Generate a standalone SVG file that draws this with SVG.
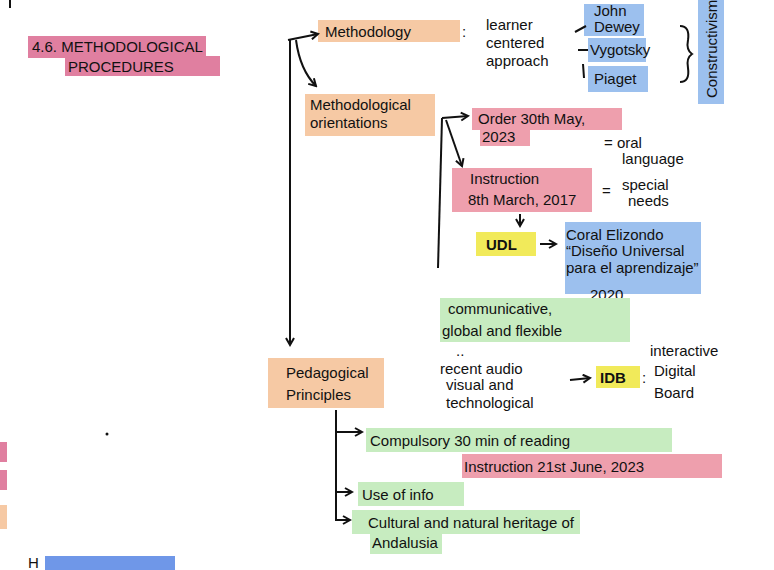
<svg xmlns="http://www.w3.org/2000/svg" width="774" height="570" viewBox="0 0 774 570">
<style>
text{font-family:"Liberation Sans",Arial,sans-serif;font-size:15px;fill:#111}
.o{fill:#f6c9a4}.r{fill:#ee9fad}.p{fill:#e07fa0}.b{fill:#9cc0ee}.g{fill:#c7ecc0}.y{fill:#f1ea5a}.bb{fill:#6f97e8}
.c{fill:none;stroke:#111;stroke-width:2}
</style>
<defs><marker id="a" markerWidth="10" markerHeight="10" refX="8" refY="5" orient="auto" markerUnits="userSpaceOnUse"><path d="M1,1 L8,5 L1,9" fill="none" stroke="#111" stroke-width="2"/></marker></defs>
<rect x="0" y="0" width="774" height="570" fill="#fff"/>
<path class="c" d="M10,0 L10,8"/>
<g id="title"><rect class="p" x="28" y="36" width="178" height="22"/><rect class="p" x="65" y="56" width="155" height="20"/>
<text x="32" y="52">4.6. METHODOLOGICAL</text><text x="68" y="72">PROCEDURES</text></g>
<g id="methodology"><rect class="o" x="318" y="20" width="142" height="22"/><text x="325" y="37">Methodology</text><text x="462" y="37">:</text>
<text x="486" y="30">learner</text><text x="486" y="48">centered</text><text x="486" y="66">approach</text></g>
<g id="authors"><rect class="b" x="584" y="4" width="60" height="32"/><rect class="b" x="588" y="38" width="58" height="24"/><rect class="b" x="588" y="66" width="60" height="26"/>
<text x="594" y="16" font-size="11">John</text><text x="594" y="32" font-size="11">Dewey</text><text x="590" y="55">Vygotsky</text><text x="594" y="84">Piaget</text>
<path class="c" d="M575,32 L586,26 M578,50 L588,50 M583,64 L584,78"/>
<path class="c" d="M680,26 q10,0 8,14 q-2,10 4,14 q-6,4 -4,14 q2,14 -8,14"/>
<rect class="b" x="698" y="0" width="26" height="104"/>
<text transform="translate(717,98) rotate(-90)" font-size="12">Constructivism</text></g>
<g id="orient"><rect class="o" x="305" y="94" width="130" height="42"/><text x="310" y="110">Methodological</text><text x="310" y="128">orientations</text></g>
<g id="order"><rect class="r" x="472" y="108" width="150" height="22"/><rect class="r" x="480" y="128" width="50" height="18"/>
<text x="478" y="124">Order 30th May,</text><text x="482" y="142">2023</text><text x="604" y="148">= oral</text><text x="622" y="164">language</text></g>
<g id="instr"><rect class="r" x="452" y="168" width="140" height="44"/>
<text x="470" y="184">Instruction</text><text x="468" y="205">8th March, 2017</text><text x="602" y="196">=</text><text x="622" y="190">special</text><text x="628" y="206">needs</text></g>
<g id="udl"><rect class="y" x="476" y="232" width="60" height="24"/><text x="486" y="250" font-weight="bold">UDL</text>
<rect class="b" x="565" y="222" width="136" height="72"/>
<text x="566" y="240">Coral Elizondo</text><text x="566" y="256">“Diseño Universal</text><text x="566" y="273">para el aprendizaje”</text><text x="590" y="300">2020</text></g>
<g id="comm"><rect class="g" x="440" y="298" width="190" height="44"/><text x="448" y="314">communicative,</text><text x="442" y="336">global and flexible</text>
<text x="456" y="356">..</text><text x="440" y="374">recent audio</text><text x="446" y="390">visual and</text><text x="446" y="408">technological</text>
<rect class="y" x="596" y="366" width="44" height="22"/><text x="600" y="383" font-weight="bold">IDB</text><text x="642" y="383">:</text>
<text x="650" y="356">interactive</text><text x="654" y="376">Digital</text><text x="654" y="398">Board</text></g>
<g id="ped"><rect class="o" x="268" y="358" width="116" height="50"/><text x="286" y="378">Pedagogical</text><text x="286" y="400">Principles</text></g>
<g id="read"><rect class="g" x="366" y="428" width="306" height="24"/><text x="370" y="446">Compulsory 30 min of reading</text>
<rect class="r" x="462" y="454" width="260" height="24"/><text x="464" y="472">Instruction 21st June, 2023</text></g>
<g id="info"><rect class="g" x="358" y="482" width="106" height="24"/><text x="362" y="500">Use of info</text></g>
<g id="heritage"><rect class="g" x="352" y="510" width="228" height="24"/><rect class="g" x="370" y="532" width="72" height="22"/>
<text x="368" y="528">Cultural and natural heritage of</text><text x="372" y="548">Andalusia</text></g>
<g id="edge"><rect class="p" x="0" y="442" width="7" height="20"/><rect class="p" x="0" y="470" width="7" height="20"/><rect class="o" x="0" y="505" width="7" height="24"/>
<rect class="bb" x="45" y="556" width="130" height="14"/><text x="28" y="568" font-size="14">H</text><circle cx="107" cy="434" r="1.5" fill="#111"/></g>
<g id="connectors">
<path class="c" d="M288,40 L318,34" marker-end="url(#a)"/>
<path class="c" d="M296,40 Q300,70 316,86" marker-end="url(#a)"/>
<path class="c" d="M290,40 L290,345" marker-end="url(#a)"/>
<path class="c" d="M442,118 L468,116" marker-end="url(#a)"/>
<path class="c" d="M446,120 L462,166" marker-end="url(#a)"/>
<path class="c" d="M442,118 L438,268"/>
<path class="c" d="M520,214 L520,226" marker-end="url(#a)"/>
<path class="c" d="M540,244 L556,244" marker-end="url(#a)"/>
<path class="c" d="M570,380 L590,378" marker-end="url(#a)"/>
<path class="c" d="M336,410 L336,520 L350,520" marker-end="url(#a)"/>
<path class="c" d="M336,432 L362,432" marker-end="url(#a)"/>
<path class="c" d="M336,492 L352,492" marker-end="url(#a)"/>
</g>
</svg>
